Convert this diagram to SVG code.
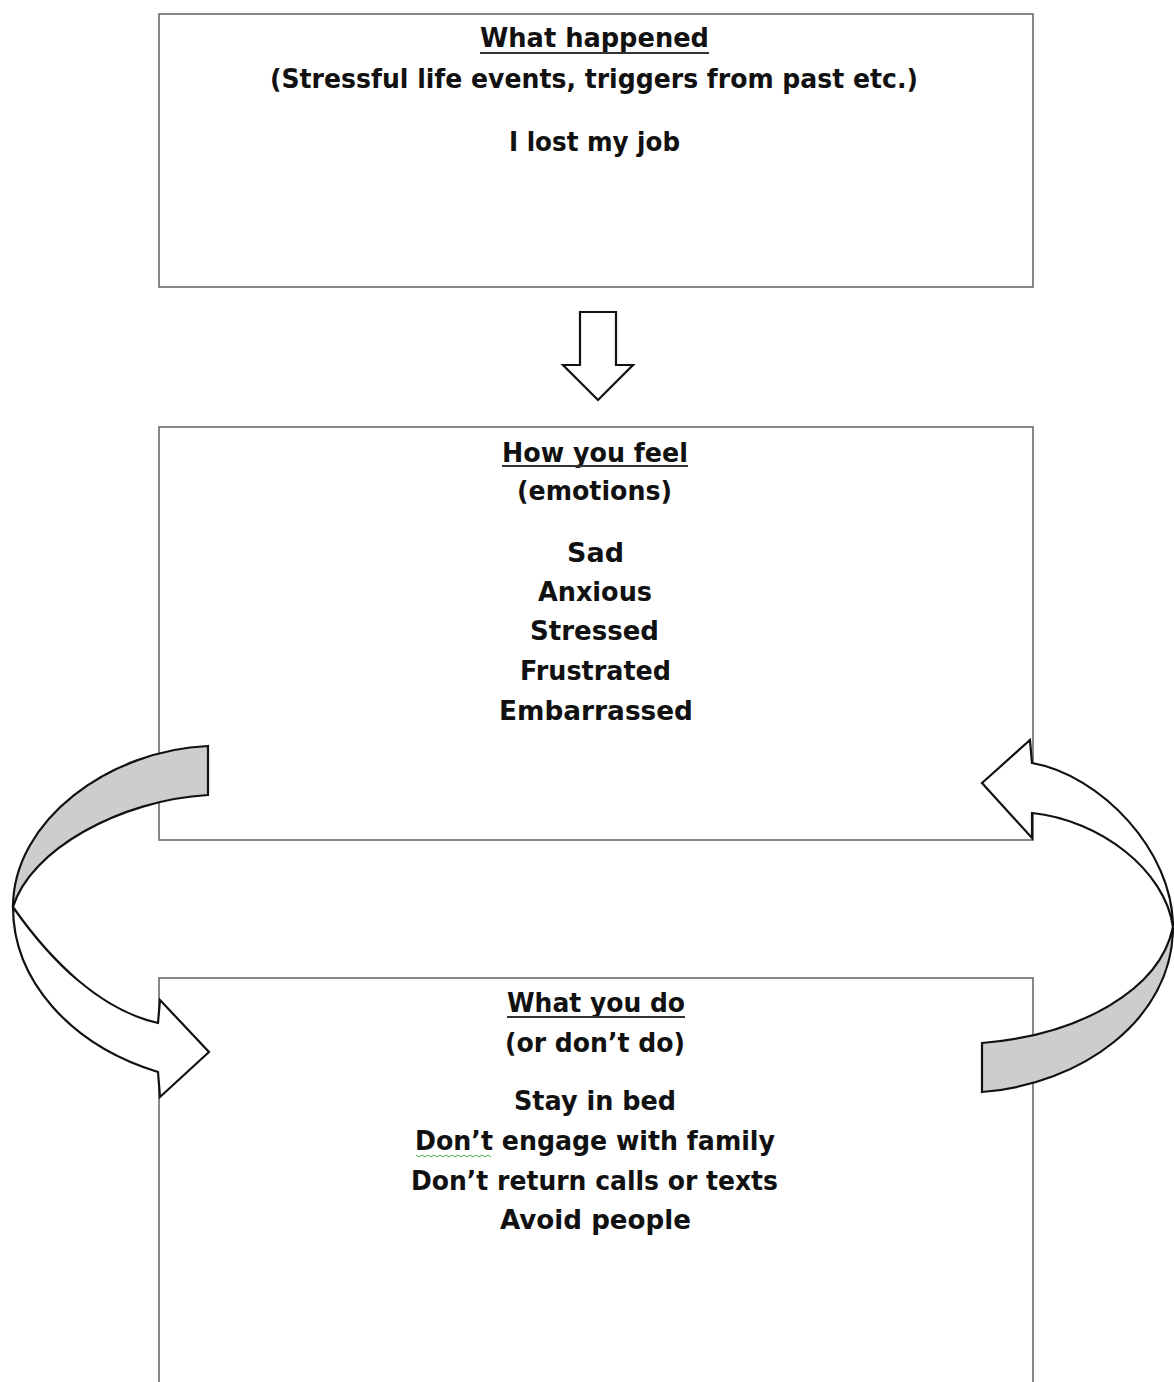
<svg xmlns="http://www.w3.org/2000/svg" width="1174" height="1382" viewBox="0 0 1174 1382">
<style>
.box{fill:#fff;stroke:#6a6a6a;stroke-width:1.6}
.t{font-family:"DejaVu Sans","Liberation Sans",sans-serif;font-weight:bold;font-size:26px;fill:#111;text-anchor:middle}
.ul{stroke:#333;stroke-width:2}
.arr{stroke:#111;stroke-width:2.2;stroke-linejoin:miter}
.white{fill:#fff}
.gray{fill:#cdcdcd}
</style>
<rect width="1174" height="1382" fill="#fff"/>
<g id="node-what-happened">
<rect class="box" x="159" y="14" width="874" height="273"/>
<text class="t" x="594.5" y="47" textLength="229" lengthAdjust="spacingAndGlyphs">What happened</text>
<line class="ul" x1="480" y1="53" x2="709" y2="53"/>
<text class="t" x="594" y="88" textLength="648" lengthAdjust="spacingAndGlyphs">(Stressful life events, triggers from past etc.)</text>
<text class="t" x="594.5" y="151" textLength="171" lengthAdjust="spacingAndGlyphs">I lost my job</text>
</g>
<g id="node-how-you-feel">
<rect class="box" x="159" y="427" width="874" height="413"/>
<text class="t" x="595" y="462" textLength="186" lengthAdjust="spacingAndGlyphs">How you feel</text>
<line class="ul" x1="502" y1="466" x2="688" y2="466"/>
<text class="t" x="594.5" y="500" textLength="155" lengthAdjust="spacingAndGlyphs">(emotions)</text>
<text class="t" x="595.5" y="562" textLength="57" lengthAdjust="spacingAndGlyphs">Sad</text>
<text class="t" x="595" y="601" textLength="114" lengthAdjust="spacingAndGlyphs">Anxious</text>
<text class="t" x="594.5" y="640" textLength="129" lengthAdjust="spacingAndGlyphs">Stressed</text>
<text class="t" x="595.5" y="680" textLength="151" lengthAdjust="spacingAndGlyphs">Frustrated</text>
<text class="t" x="596" y="720" textLength="194" lengthAdjust="spacingAndGlyphs">Embarrassed</text>
</g>
<g id="node-what-you-do">
<rect class="box" x="159" y="978" width="874" height="430"/>
<text class="t" x="596" y="1012" textLength="178" lengthAdjust="spacingAndGlyphs">What you do</text>
<line class="ul" x1="507" y1="1017" x2="685" y2="1017"/>
<text class="t" x="595" y="1052" textLength="180" lengthAdjust="spacingAndGlyphs">(or don’t do)</text>
<text class="t" x="595" y="1110" textLength="162" lengthAdjust="spacingAndGlyphs">Stay in bed</text>
<text class="t" x="595" y="1150" textLength="360" lengthAdjust="spacingAndGlyphs">Don’t engage with family</text>
<text class="t" x="594.5" y="1190" textLength="367" lengthAdjust="spacingAndGlyphs">Don’t return calls or texts</text>
<text class="t" x="595.5" y="1229" textLength="191" lengthAdjust="spacingAndGlyphs">Avoid people</text>
<polyline points="416,1155 419,1157 422,1155 425,1157 428,1155 431,1157 434,1155 437,1157 440,1155 443,1157 446,1155 449,1157 452,1155 455,1157 458,1155 461,1157 464,1155 467,1157 470,1155 473,1157 476,1155 479,1157 482,1155 485,1157 488,1155 491,1157" fill="none" stroke="#4caf50" stroke-width="1"/>
</g>
<g id="connectors">
<polygon class="arr white" points="580,312 616,312 616,365 633,365 598,400 563,365 580,365"/>
<path class="arr gray" d="M208,746 C110,750 13,820 13,907 C30,850 120,800 208,795 Z"/>
<path class="arr white" d="M13,907 C13,980 70,1045 158,1072 L160,1097 L209,1052 L160,1000 L158,1023 C100,1010 50,960 13,907 Z"/>
<path class="arr white" d="M1173,927 C1173,850 1100,775 1032,763 L1030,740 L982,783 L1032,838 L1032,813 C1100,820 1165,870 1173,927 Z"/>
<path class="arr gray" d="M1173,927 C1173,1020 1080,1085 982,1092 L982,1043 C1080,1035 1160,990 1173,927 Z"/>
</g>
</svg>
